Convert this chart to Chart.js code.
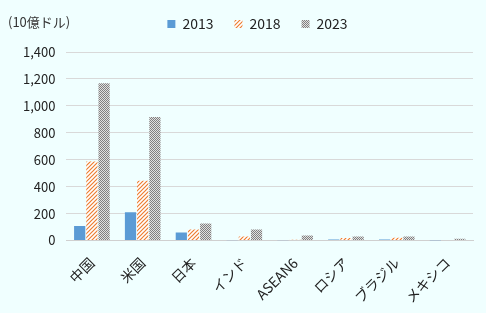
<!DOCTYPE html>
<html>
<head>
<meta charset="utf-8">
<script src="https://cdn.jsdelivr.net/npm/chart.js@4"></script>
<style>
  body { margin: 0; background: #F0FFFF; }
  #wrap { position: relative; width: 486px; height: 313px; }
  #unit { position: absolute; left: 8px; top: 12px; font: 13px "Noto Sans CJK JP", sans-serif; color: #333; }
</style>
</head>
<body>
<div id="wrap">
  <canvas id="chart"></canvas>
  <div id="unit">(10億ドル)</div>
</div>
<script>
const categories = ['中国', '米国', '日本', 'インド', 'ASEAN6', 'ロシア', 'ブラジル', 'メキシコ']
const years = ['2013', '2018', '2023']
const values2013 = [107, 210, 60, 2, 2, 8, 8, 1]
const values2018 = [586, 444, 82, 30, 6, 18, 20, 3]
const values2023 = [1168, 918, 127, 82, 37, 30, 30, 13]
const yTicks = [0, 200, 400, 600, 800, 1000, 1200, 1400]

function hatchPattern() {
    const c = document.createElement('canvas');
    c.width = 4;
    c.height = 4;
    const g = c.getContext('2d');
    g.fillStyle = '#ffffff';
    g.fillRect(0, 0, 4, 4);
    g.strokeStyle = '#ED7D31';
    g.lineWidth = 1.2;
    g.beginPath();
    g.moveTo(0, 4); g.lineTo(4, 0);
    g.moveTo(-1, 1); g.lineTo(1, -1);
    g.moveTo(3, 5); g.lineTo(5, 3);
    g.stroke();
    return g.createPattern(c, 'repeat');
}

function checkPattern() {
    const c = document.createElement('canvas');
    c.width = 2;
    c.height = 2;
    const g = c.getContext('2d');
    g.fillStyle = '#e0e0e0';
    g.fillRect(0, 0, 2, 2);
    g.fillStyle = '#808080';
    g.fillRect(0, 0, 1, 1);
    g.fillRect(1, 1, 1, 1);
    return g.createPattern(c, 'repeat');
}

const font = { family: '"Noto Sans CJK JP", sans-serif', size: 13 };
const bigFont = { family: '"Noto Sans CJK JP", sans-serif', size: 14 };

// extra room under the legend, and move it a bit to the right
const legendGap = {
    id: 'legendGap',
    beforeInit(chart) {
        const fit = chart.legend.fit;
        chart.legend.fit = function () {
            fit.bind(chart.legend)();
            this.height += 11;
        };
    },
    afterLayout(chart) {
        chart.legend.left += 30;
    }
};

new Chart(document.getElementById('chart'), {
    type: 'bar',
    data: {
        labels: categories,
        datasets: [
            { label: years[0], data: values2013, backgroundColor: '#5B9BD5' },
            { label: years[1], data: values2018, backgroundColor: hatchPattern() },
            { label: years[2], data: values2023, backgroundColor: checkPattern() }
        ]
    },
    options: {
        responsive: true,
        maintainAspectRatio: false,
        animation: false,
        datasets: {
            bar: { categoryPercentage: 0.72, barPercentage: 0.92 }
        },
        layout: { padding: { left: 12, right: 13, top: -4, bottom: 1 } },
        scales: {
            x: {
                grid: { display: false },
                border: { color: '#d0d0d0' },
                ticks: { font: bigFont, color: '#222', minRotation: 45, maxRotation: 45, padding: 6 }
            },
            y: {
                min: 0,
                max: 1400,
                afterBuildTicks: function (axis) {
                    axis.ticks = yTicks.map(v => ({ value: v }));
                },
                grid: { color: '#d9d9d9', drawTicks: false },
                border: { display: false },
                ticks: {
                    font: font,
                    color: '#222',
                    padding: 11,
                    callback: v => v.toLocaleString('en-US')
                }
            }
        },
        plugins: {
            legend: {
                position: 'top',
                labels: { font: bigFont, color: '#222', boxWidth: 8, boxHeight: 8, padding: 21 }
            },
            tooltip: { enabled: false }
        }
    },
    plugins: [legendGap]
});
</script>
</body>
</html>
